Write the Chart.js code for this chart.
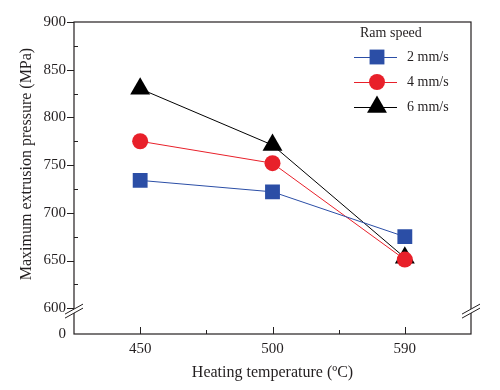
<!DOCTYPE html>
<html><head><meta charset="utf-8">
<script src="https://cdn.jsdelivr.net/npm/chart.js@4/dist/chart.umd.min.js"></script>
<style>html,body{margin:0;padding:0;background:#fff}#wrap{width:500px;height:390px}</style>
</head><body><div id="wrap"><canvas id="c" width="500" height="390"></canvas></div>
<script>
const categories = ['450', '500', '590'];
const speed2 = [734, 722, 675];
const speed4 = [775, 752, 651];
const speed6 = [830, 771, 653];
const seriesLabels = ['2 mm/s', '4 mm/s', '6 mm/s'];
const yMajorTicks = [600, 650, 700, 750, 800, 850, 900];
const yMinorTicks = [625, 675, 725, 775, 825, 875];
const yZeroPos = 573;      // axis value where the broken-axis "0" sits
const yBreakPos = 597;     // axis value where the break marks sit
const legendTitle = 'Ram speed';
const xTitle = 'Heating temperature (ºC)';
const yTitle = 'Maximum extrusion pressure (MPa)';

const INK = '#231f20';
const SERIF = "'Liberation Serif', 'Times New Roman', serif";

const framePlugin = {
  id: 'frame',
  afterDatasetsDraw(chart) {
    const {ctx, chartArea: a, scales: {x, y}} = chart;
    ctx.save();
    ctx.strokeStyle = INK;
    ctx.lineWidth = 1.2;
    ctx.strokeRect(a.left, a.top, a.right - a.left, a.bottom - a.top);
    ctx.lineWidth = 1;
    ctx.beginPath();
    yMajorTicks.forEach(v => { const p = Math.round(y.getPixelForValue(v)) + 0.5; ctx.moveTo(a.left - 7, p); ctx.lineTo(a.left, p); });
    yMinorTicks.forEach(v => { const p = Math.round(y.getPixelForValue(v)) + 0.5; ctx.moveTo(a.left, p); ctx.lineTo(a.left + 4, p); });
    categories.forEach((c, i) => { const p = Math.round(x.getPixelForValue(i)) + 0.5; ctx.moveTo(p, a.bottom); ctx.lineTo(p, a.bottom - 7); });
    for (let i = 0; i < categories.length - 1; i++) { const p = Math.round(x.getPixelForValue(i + 0.5)) + 0.5; ctx.moveTo(p, a.bottom); ctx.lineTo(p, a.bottom - 4); }
    ctx.stroke();
    // axis break marks
    const by = y.getPixelForValue(yBreakPos);
    [a.left, a.right].forEach(bx => {
      ctx.fillStyle = '#fff';
      ctx.beginPath();
      ctx.moveTo(bx - 9, by + 3); ctx.lineTo(bx + 9, by - 7); ctx.lineTo(bx + 9, by - 3); ctx.lineTo(bx - 9, by + 7); ctx.closePath();
      ctx.fill();
      ctx.beginPath();
      ctx.moveTo(bx - 9, by + 3); ctx.lineTo(bx + 9, by - 7);
      ctx.moveTo(bx - 9, by + 7); ctx.lineTo(bx + 9, by - 3);
      ctx.stroke();
    });
    // y title
    ctx.fillStyle = INK;
    ctx.font = '16px ' + SERIF;
    ctx.textAlign = 'center';
    ctx.textBaseline = 'middle';
    ctx.translate(27, 164);
    ctx.rotate(-Math.PI / 2);
    ctx.fillText(yTitle, 0, 0);
    ctx.restore();
  },
  afterDraw(chart) {
    const {ctx} = chart;
    ctx.save();
    ctx.fillStyle = INK;
    ctx.font = '14px ' + SERIF;
    ctx.textBaseline = 'middle';
    ctx.textAlign = 'left';
    ctx.fillText(legendTitle, 360, 33);
    chart.data.datasets.forEach((ds, i) => {
      const cy = 57 + i * 25;
      ctx.strokeStyle = ds.borderColor;
      ctx.lineWidth = 1;
      ctx.beginPath(); ctx.moveTo(354, cy + 0.5); ctx.lineTo(397, cy + 0.5); ctx.stroke();
      ctx.fillStyle = ds.pointBackgroundColor;
      ctx.strokeStyle = ds.pointBorderColor;
      Chart.helpers.drawPoint(ctx, {pointStyle: ds.pointStyle, radius: ds.pointRadius, rotation: 0, borderWidth: 0}, 377, cy);
      ctx.fillStyle = INK;
      ctx.fillText(ds.label, 407, cy);
    });
    ctx.restore();
  }
};

const mk = (label, data, color, style, r) => ({
  label, data, borderColor: color, borderWidth: 1, pointStyle: style, pointRadius: r, pointHoverRadius: r,
  pointBackgroundColor: color, pointBorderColor: color, pointBorderWidth: 0, tension: 0, fill: false
});

new Chart(document.getElementById('c'), {
  type: 'line',
  data: {
    labels: categories,
    datasets: [
      mk(seriesLabels[0], speed2, '#2b4ea6', 'rect', 10.5),
      mk(seriesLabels[1], speed4, '#e8202a', 'circle', 8),
      mk(seriesLabels[2], speed6, '#000000', 'triangle', 11.5)
    ]
  },
  options: {
    responsive: false,
    animation: false,
    events: [],
    layout: {padding: {top: 22, right: 29, left: 0, bottom: 0}},
    plugins: {legend: {display: false}, tooltip: {enabled: false}},
    scales: {
      x: {
        type: 'category', offset: true,
        grid: {display: false, drawTicks: false},
        border: {display: false},
        ticks: {color: INK, font: {family: SERIF, size: 15}, padding: 6, maxRotation: 0},
        title: {display: true, text: xTitle, color: INK, font: {family: SERIF, size: 16}, padding: {top: 0, bottom: 8}},
        afterFit(s) { s.height = 56; }
      },
      y: {
        type: 'linear', min: yZeroPos, max: 900,
        grid: {display: false, drawTicks: false},
        border: {display: false},
        afterBuildTicks(s) { s.ticks = [yZeroPos, ...yMajorTicks].map(v => ({value: v})); },
        ticks: {color: INK, font: {family: SERIF, size: 15}, padding: 8,
          callback: v => v === yZeroPos ? '0' : String(v)},
        afterFit(s) { s.width = 74; }
      }
    }
  },
  plugins: [framePlugin]
});
</script></body></html>
